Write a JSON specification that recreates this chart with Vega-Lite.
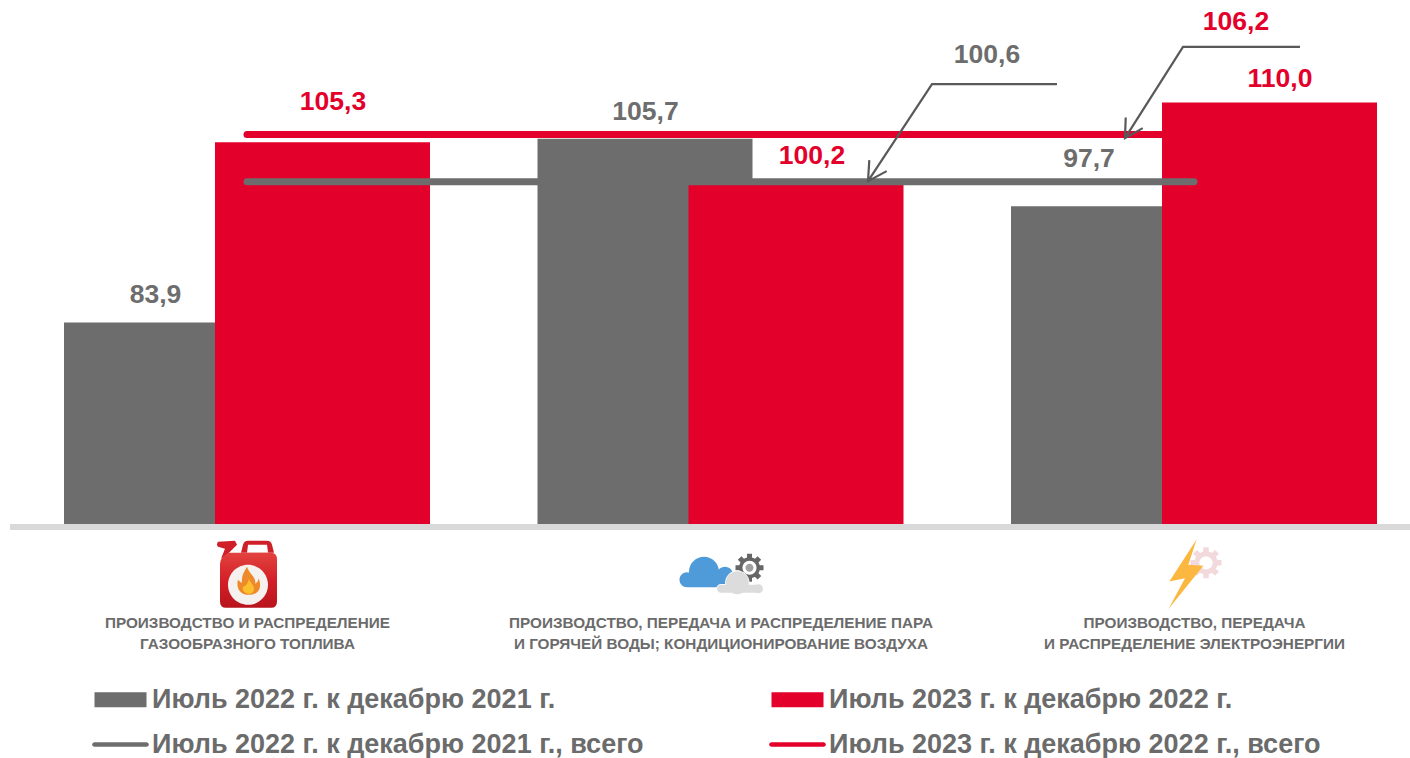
{
"$schema":"https://vega.github.io/schema/vega-lite/v6.json",
"width":1400,"height":524,"autosize":"none","padding":{"left":10,"top":0,"right":0,"bottom":234},
"background":"white",
"config":{"view":{"stroke":null},"font":"Liberation Sans"},
"data":{"values":[
{"category":"Производство и распределение|газообразного топлива","series":"Июль 2022 г. к декабрю 2021 г.","kind":"bar","value":83.9,"label":"83,9"},
{"category":"Производство, передача и распределение пара|и горячей воды; кондиционирование воздуха","series":"Июль 2022 г. к декабрю 2021 г.","kind":"bar","value":105.7,"label":"105,7"},
{"category":"Производство, передача|и распределение электроэнергии","series":"Июль 2022 г. к декабрю 2021 г.","kind":"bar","value":97.7,"label":"97,7"},
{"category":"Производство и распределение|газообразного топлива","series":"Июль 2023 г. к декабрю 2022 г.","kind":"bar","value":105.3,"label":"105,3"},
{"category":"Производство, передача и распределение пара|и горячей воды; кондиционирование воздуха","series":"Июль 2023 г. к декабрю 2022 г.","kind":"bar","value":100.2,"label":"100,2"},
{"category":"Производство, передача|и распределение электроэнергии","series":"Июль 2023 г. к декабрю 2022 г.","kind":"bar","value":110.0,"label":"110,0"},
{"category":"Производство и распределение|газообразного топлива","series":"Июль 2022 г. к декабрю 2021 г., всего","kind":"line","value":100.6,"label":""},
{"category":"Производство, передача и распределение пара|и горячей воды; кондиционирование воздуха","series":"Июль 2022 г. к декабрю 2021 г., всего","kind":"line","value":100.6,"label":"100,6"},
{"category":"Производство, передача|и распределение электроэнергии","series":"Июль 2022 г. к декабрю 2021 г., всего","kind":"line","value":100.6,"label":""},
{"category":"Производство и распределение|газообразного топлива","series":"Июль 2023 г. к декабрю 2022 г., всего","kind":"line","value":106.2,"label":""},
{"category":"Производство, передача и распределение пара|и горячей воды; кондиционирование воздуха","series":"Июль 2023 г. к декабрю 2022 г., всего","kind":"line","value":106.2,"label":""},
{"category":"Производство, передача|и распределение электроэнергии","series":"Июль 2023 г. к декабрю 2022 г., всего","kind":"line","value":106.2,"label":"106,2"}
]},
"encoding":{
"x":{"field":"category","type":"nominal","sort":null,
 "scale":{"type":"point","padding":0,"domain":["Производство и распределение|газообразного топлива","Производство, передача и распределение пара|и горячей воды; кондиционирование воздуха","Производство, передача|и распределение электроэнергии"],"range":[237,1184]},
 "axis":{"title":null,"domain":false,"ticks":false,"grid":false,"labelAngle":0,"labelAlign":"center","labelBaseline":"top","labelPadding":91,"labelLimit":700,"labelFont":"Liberation Sans","labelFontWeight":"bold","labelFontSize":15.3,"labelColor":"#6b6b6b","labelLineHeight":21,"labelExpr":"split(upper(datum.label),'|')"}},
"y":{"field":"value","type":"quantitative","scale":{"domain":[60,122.16],"nice":false,"zero":false},"axis":null}
},
"layer":[
{"mark":{"type":"rule","color":"#d9d9d9","strokeWidth":6},"encoding":{"x":{"value":0},"x2":{"value":1400},"y":{"datum":59.645}}},
{"transform":[{"filter":"datum.series==='Июль 2022 г. к декабрю 2021 г.'"}],"mark":{"type":"bar","width":215,"xOffset":-75.5,"color":"#6d6d6d"},"encoding":{"y2":{"datum":60}}},
{"transform":[{"filter":"datum.series==='Июль 2023 г. к декабрю 2022 г.'"}],"mark":{"type":"bar","width":215,"xOffset":75.5,"color":"#e3002b"},"encoding":{"y2":{"datum":60}}},
{"transform":[{"filter":"datum.series==='Июль 2023 г. к декабрю 2022 г., всего'"}],"mark":{"type":"line","color":"#e3002b","strokeWidth":7,"strokeCap":"round"}},
{"transform":[{"filter":"datum.series==='Июль 2022 г. к декабрю 2021 г., всего'"}],"mark":{"type":"line","color":"#6d6d6d","strokeWidth":7,"strokeCap":"round"}},

{"transform":[{"filter":"datum.label==='83,9'"}],"mark":{"type":"text","dx":-91.5,"dy":-28,"fontSize":26.5,"fontWeight":"bold","color":"#6d6d6d","font":"Liberation Sans"},"encoding":{"text":{"field":"label"}}},
{"transform":[{"filter":"datum.label==='105,3'"}],"mark":{"type":"text","dx":86,"dy":-40,"fontSize":26.5,"fontWeight":"bold","color":"#e3002b","font":"Liberation Sans"},"encoding":{"text":{"field":"label"}}},
{"transform":[{"filter":"datum.label==='105,7'"}],"mark":{"type":"text","dx":-75,"dy":-26.4,"fontSize":26.5,"fontWeight":"bold","color":"#6d6d6d","font":"Liberation Sans"},"encoding":{"text":{"field":"label"}}},
{"transform":[{"filter":"datum.label==='100,2'"}],"mark":{"type":"text","dx":91.5,"dy":-29,"fontSize":26.5,"fontWeight":"bold","color":"#e3002b","font":"Liberation Sans"},"encoding":{"text":{"field":"label"}}},
{"transform":[{"filter":"datum.label==='97,7'"}],"mark":{"type":"text","dx":-105,"dy":-47,"fontSize":26.5,"fontWeight":"bold","color":"#6d6d6d","font":"Liberation Sans"},"encoding":{"text":{"field":"label"}}},
{"transform":[{"filter":"datum.label==='110,0'"}],"mark":{"type":"text","dx":86,"dy":-24,"fontSize":26.5,"fontWeight":"bold","color":"#e3002b","font":"Liberation Sans"},"encoding":{"text":{"field":"label"}}},
{"transform":[{"filter":"datum.label==='100,6'"}],"mark":{"type":"text","dx":266.5,"dy":-126.6,"fontSize":26.5,"fontWeight":"bold","color":"#6d6d6d","font":"Liberation Sans"},"encoding":{"text":{"field":"label"}}},
{"transform":[{"filter":"datum.label==='106,2'"}],"mark":{"type":"text","dx":42,"dy":-112.7,"fontSize":26.5,"fontWeight":"bold","color":"#e3002b","font":"Liberation Sans"},"encoding":{"text":{"field":"label"}}},

{"transform":[{"filter":"datum.label==='100,6'"}],"mark":{"type":"point","filled":false,"opacity":1,"size":4,"yOffset":-1,"stroke":"#595959","strokeWidth":2.2,"shape":"M336.5,-96.6L211.5,-96.6L147.5,0.4M148.8,-20.6L147.5,0.4L166.2,-9.6"}},
{"transform":[{"filter":"datum.label==='106,2'"}],"mark":{"type":"point","filled":false,"opacity":1,"size":4,"yOffset":-1,"stroke":"#595959","strokeWidth":2.2,"shape":"M106,-86.7L-11,-86.7L-69,4.6M-68.3,-16L-69,4.6L-51.3,-5.4"}},

{"transform":[{"filter":"datum.label==='83,9'"}],"mark":{"type":"point","filled":true,"opacity":1,"size":4,"fill":"#cf1f28","shape":"M-6,-22L-4,-30Q-3,-34 1,-34L20,-34Q24,-34 25,-30L27,-22Z"},"encoding":{"y":{"datum":53.97}}},
{"transform":[{"filter":"datum.label==='83,9'"}],"mark":{"type":"point","filled":true,"opacity":1,"size":4,"fill":"#ffffff","shape":"M0,-22L1,-30L20,-30L21,-22Z"},"encoding":{"y":{"datum":53.97}}},
{"transform":[{"filter":"datum.label==='83,9'"}],"mark":{"type":"point","filled":true,"opacity":1,"size":4,"fill":"#cf1f28","shape":"M-20,-20L-14,-26L-10,-30L-12,-34L-29,-33Q-31,-30 -29,-28L-22,-26L-26,-16Z"},"encoding":{"y":{"datum":53.97}}},
{"transform":[{"filter":"datum.label==='83,9'"}],"mark":{"type":"point","filled":true,"opacity":1,"size":4,"fill":{"x1":0,"y1":0,"x2":0,"y2":1,"gradient":"linear","stops":[{"offset":0,"color":"#e2423f"},{"offset":0.5,"color":"#d41f27"},{"offset":1,"color":"#b8141c"}]},"shape":"M-19,-22L24,-22Q30,-22 30,-15L30,27Q30,33 24,33L-21,33Q-27,33 -27,27L-27,-11Q-27,-15 -24,-18Z"},"encoding":{"y":{"datum":53.97}}},
{"transform":[{"filter":"datum.label==='83,9'"}],"mark":{"type":"point","filled":true,"opacity":1,"size":4,"fill":"#f4f1ee","shape":"M-19,10A20,20 0 1 0 21,10A20,20 0 1 0 -19,10Z"},"encoding":{"y":{"datum":53.97}}},
{"transform":[{"filter":"datum.label==='83,9'"}],"mark":{"type":"point","filled":true,"opacity":1,"size":4,"fill":"#ee8a2a","shape":"M0,-8C2,-1 10,3 8,9C11,7 12,5 11,3C15,9 14,20 2,20C-8,20 -11,12 -9,5C-7,7 -6,8 -5,8C-6,2 -3,-3 0,-8Z"},"encoding":{"y":{"datum":53.97}}},
{"transform":[{"filter":"datum.label==='83,9'"}],"mark":{"type":"point","filled":true,"opacity":1,"size":4,"fill":"#fcc02e","shape":"M2,4C3,8 7,10 7,14C7,18 4,19 2,19C-2,19 -5,16 -4,12C-2,12 1,9 2,4Z"},"encoding":{"y":{"datum":53.97}}},

{"transform":[{"filter":"datum.label==='105,7'"}],"mark":{"type":"point","filled":true,"opacity":1,"size":4,"fill":"#4f9bd9","shape":"M-41,5A7.5,7.5 0 1 0 -26,5A7.5,7.5 0 1 0 -41,5ZM-31.5,-3A15,15 0 1 0 -1.5,-3A15,15 0 1 0 -31.5,-3ZM-3.5,0A8,8 0 1 0 12.5,0A8,8 0 1 0 -3.5,0ZM-33,3V12.5H12V3Z"},"encoding":{"y":{"datum":53.97}}},
{"transform":[{"filter":"datum.label==='105,7'"}],"mark":{"type":"point","filled":true,"opacity":1,"size":4,"xOffset":29,"yOffset":-7,"fill":"#666666","shape":"M-2.5,-14H2.5V14H-2.5ZM-14,-2.5H14V2.5H-14ZM8.1,11.7L11.7,8.1L-8.1,-11.7L-11.7,-8.1ZM-8.1,11.7L-11.7,8.1L8.1,-11.7L11.7,-8.1Z"},"encoding":{"y":{"datum":53.97}}},
{"transform":[{"filter":"datum.label==='105,7'"}],"mark":{"type":"point","filled":true,"opacity":1,"size":4,"xOffset":29,"yOffset":-7,"fill":"#666666","shape":"M-10.5,0A10.5,10.5 0 1 0 10.5,0A10.5,10.5 0 1 0 -10.5,0Z"},"encoding":{"y":{"datum":53.97}}},
{"transform":[{"filter":"datum.label==='105,7'"}],"mark":{"type":"point","filled":true,"opacity":1,"size":4,"xOffset":29,"yOffset":-7,"fill":"#ffffff","shape":"M-7,0A7,7 0 1 0 7,0A7,7 0 1 0 -7,0Z"},"encoding":{"y":{"datum":53.97}}},
{"transform":[{"filter":"datum.label==='105,7'"}],"mark":{"type":"point","filled":true,"opacity":1,"size":4,"xOffset":29,"yOffset":-7,"fill":"#a0a0a0","shape":"M-4,0A4,4 0 1 0 4,0A4,4 0 1 0 -4,0Z"},"encoding":{"y":{"datum":53.97}}},
{"transform":[{"filter":"datum.label==='105,7'"}],"mark":{"type":"point","filled":true,"opacity":1,"size":4,"fill":"#dcdcdc","stroke":"#ffffff","strokeWidth":1.5,"shape":"M5.3,8A11.5,11.5 0 1 0 28.3,8A11.5,11.5 0 1 0 5.3,8ZM-3.5,14A4,4 0 1 0 4.5,14A4,4 0 1 0 -3.5,14ZM33.5,14A4.5,4.5 0 1 0 42.5,14A4.5,4.5 0 1 0 33.5,14ZM0.5,10V18H38V10Z"},"encoding":{"y":{"datum":53.97}}},
{"transform":[{"filter":"datum.label==='105,7'"}],"mark":{"type":"point","filled":true,"opacity":1,"size":4,"fill":"#dcdcdc","strokeWidth":0,"stroke":"#dcdcdc","shape":"M5.3,8A11.5,11.5 0 1 0 28.3,8A11.5,11.5 0 1 0 5.3,8ZM-3.5,14A4,4 0 1 0 4.5,14A4,4 0 1 0 -3.5,14ZM33.5,14A4.5,4.5 0 1 0 42.5,14A4.5,4.5 0 1 0 33.5,14ZM0.5,10V18H38V10Z"},"encoding":{"y":{"datum":53.97}}},

{"transform":[{"filter":"datum.label==='97,7'"}],"mark":{"type":"point","filled":true,"opacity":1,"size":4.9,"xOffset":12,"yOffset":-12,"fill":"#f1d9dc","shape":"M-2.5,-14H2.5V14H-2.5ZM-14,-2.5H14V2.5H-14ZM8.1,11.7L11.7,8.1L-8.1,-11.7L-11.7,-8.1ZM-8.1,11.7L-11.7,8.1L8.1,-11.7L11.7,-8.1Z"},"encoding":{"y":{"datum":53.97}}},
{"transform":[{"filter":"datum.label==='97,7'"}],"mark":{"type":"point","filled":true,"opacity":1,"size":4.9,"xOffset":12,"yOffset":-12,"fill":"#f1d9dc","shape":"M-10.5,0A10.5,10.5 0 1 0 10.5,0A10.5,10.5 0 1 0 -10.5,0Z"},"encoding":{"y":{"datum":53.97}}},
{"transform":[{"filter":"datum.label==='97,7'"}],"mark":{"type":"point","filled":true,"opacity":1,"size":4.9,"xOffset":12,"yOffset":-12,"fill":"#ffffff","shape":"M-6,0A6,6 0 1 0 6,0A6,6 0 1 0 -6,0Z"},"encoding":{"y":{"datum":53.97}}},
{"transform":[{"filter":"datum.label==='97,7'"}],"mark":{"type":"point","filled":true,"opacity":1,"size":4,"fill":"#fbb73f","shape":"M2.7,-35.7L-24.7,6.7L-9,3.3L-25.7,34.3L9.3,-9L-5.7,-10Z"},"encoding":{"y":{"datum":53.97}}},

{"mark":{"type":"point","filled":true,"size":0,"opacity":1},
 "encoding":{
  "color":{"field":"series","type":"nominal",
   "scale":{"domain":["Июль 2022 г. к декабрю 2021 г.","Июль 2022 г. к декабрю 2021 г., всего","Июль 2023 г. к декабрю 2022 г.","Июль 2023 г. к декабрю 2022 г., всего"],"range":["#6d6d6d","#6d6d6d","#e3002b","#e3002b"]},
   "legend":{"title":null,"orient":"none","legendX":69,"legendY":686,"padding":0,"columns":2,"columnPadding":112,"rowPadding":17,"symbolSize":4,"symbolStrokeWidth":0,"symbolOpacity":1,"labelOffset":46,"labelLimit":700,"labelFont":"Liberation Sans","labelFontWeight":"bold","labelFontSize":27,"labelColor":"#6b6b6b"}},
  "shape":{"field":"series","type":"nominal",
   "scale":{"domain":["Июль 2022 г. к декабрю 2021 г.","Июль 2022 г. к декабрю 2021 г., всего","Июль 2023 г. к декабрю 2022 г.","Июль 2023 г. к декабрю 2022 г., всего"],"range":["M2,-7.5H54V7.5H2Z","M2,-2.3H54A2.3,2.3 0 0 1 54,2.3H2A2.3,2.3 0 0 1 2,-2.3Z","M2,-7.5H54V7.5H2Z","M2,-2.3H54A2.3,2.3 0 0 1 54,2.3H2A2.3,2.3 0 0 1 2,-2.3Z"]},
   "legend":{"title":null,"orient":"none","legendX":69,"legendY":686,"padding":0,"columns":2,"columnPadding":112,"rowPadding":17,"symbolSize":4,"symbolStrokeWidth":0,"symbolOpacity":1,"labelOffset":46,"labelLimit":700,"labelFont":"Liberation Sans","labelFontWeight":"bold","labelFontSize":27,"labelColor":"#6b6b6b"}}
 }}
]
}
